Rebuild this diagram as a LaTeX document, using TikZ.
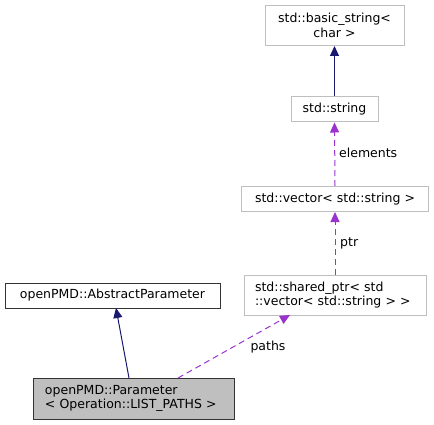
\documentclass[tikz,border=0pt]{standalone}
\usepackage{fontspec}
\setmainfont{DejaVu Sans}
\usetikzlibrary{arrows.meta}
\definecolor{boxgray}{HTML}{BFBFBF}
\definecolor{edgeblue}{HTML}{191970}
\definecolor{edgepurple}{HTML}{9A32CD}
\begin{document}
\begin{tikzpicture}[x=1pt,y=-1pt,
  every node/.style={font=\fontsize{12.5}{14.5}\selectfont, inner sep=0pt},
  extbox/.style={draw=boxgray, line width=1pt, rectangle, align=center},
  mainbox/.style={draw=black!80, line width=1pt, rectangle},
  inherit/.style={draw=edgeblue, line width=1pt, -{Triangle[length=10pt,width=9pt]}},
  usage/.style={draw=edgepurple, line width=1pt, dash pattern=on 6pt off 4pt, -{Triangle[length=10pt,width=9pt]}},
  elabel/.style={font=\fontsize{12.5}{14.5}\selectfont}
]
\useasboundingbox (0,0) rectangle (434,425);
\node[extbox, minimum width=139pt, minimum height=40pt] (bs) at (334.5,25.5) {std::basic\_string<\\char >};
\node[extbox, minimum width=87pt, minimum height=25pt] (str) at (334.5,109.5) {std::string};
\node[extbox, minimum width=187pt, minimum height=25pt] (vec) at (335,199) {std::vector< std::string >};
\node[extbox, minimum width=182pt, minimum height=40pt, text width=160pt, align=left] (sp) at (335,295) {std::shared\_ptr< std\\::vector< std::string > >};
\node[mainbox, minimum width=215pt, minimum height=25pt] (ap) at (112.5,295.5) {openPMD::AbstractParameter};
\node[mainbox, fill=boxgray, minimum width=201pt, minimum height=41pt, text width=177pt, align=left] (par) at (133.5,398.5) {openPMD::Parameter\\< Operation::LIST\_PATHS >};

\draw[inherit] (str.north) -- (bs.south);
\draw[usage] (vec.north) -- (str.south);
\node[elabel, anchor=west] (lel) at (339,153) {elements};
\draw[usage] (sp.north -| vec.south) -- (vec.south);
\node[elabel, anchor=west] (lptr) at (340,243) {ptr};
\coordinate (pa1) at (129,378);
\coordinate (pa2) at (116,308);
\draw[inherit] (pa1) -- (pa2);
\coordinate (pu1) at (178,378);
\coordinate (pu2) at (290,315);
\draw[usage] (pu1) -- (pu2);
\node[elabel] (lpaths) at (268,347) {paths};
\end{tikzpicture}
\end{document}
